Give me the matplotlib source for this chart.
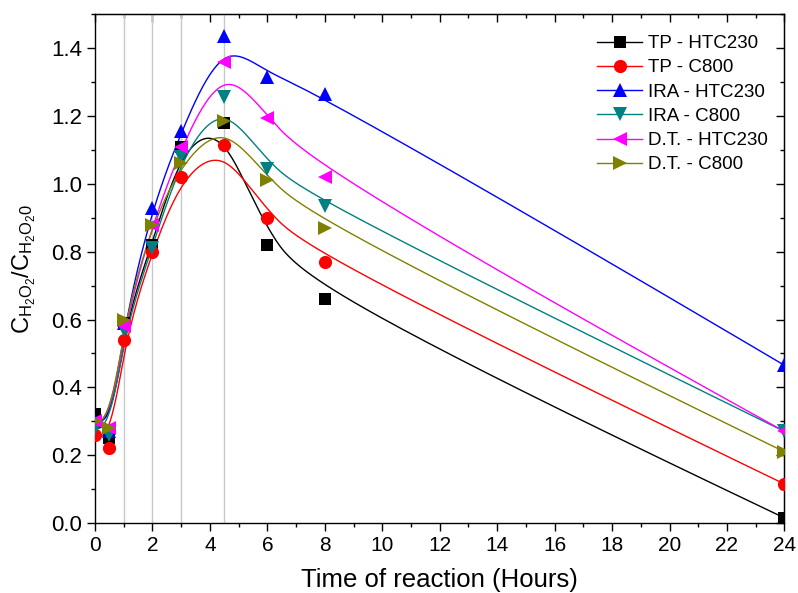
import numpy as np
import matplotlib
matplotlib.use("Agg")
import matplotlib.pyplot as plt
from matplotlib.ticker import MultipleLocator, FormatStrFormatter

plt.rcParams['font.family'] = ['Liberation Sans', 'DejaVu Sans']
plt.rcParams['mathtext.fontset'] = 'custom'
plt.rcParams['mathtext.rm'] = 'Liberation Sans'
plt.rcParams['mathtext.it'] = 'Liberation Sans'

# Reaction time (hours)
time_h = [0, 0.5, 1, 2, 3, 4.5, 6, 8, 24]

# Normalised H2O2 concentration for each catalyst / carbon pair
tp_htc230 = [0.32, 0.25, 0.59, 0.82, 1.11, 1.18, 0.82, 0.66, 0.015]
tp_c800 = [0.26, 0.22, 0.54, 0.80, 1.02, 1.115, 0.90, 0.77, 0.115]
ira_htc230 = [0.30, 0.27, 0.59, 0.93, 1.155, 1.435, 1.315, 1.265, 0.465]
ira_c800 = [0.28, 0.26, 0.57, 0.81, 1.08, 1.255, 1.045, 0.935, 0.27]
dt_htc230 = [0.30, 0.28, 0.58, 0.88, 1.11, 1.36, 1.195, 1.02, 0.27]
dt_c800 = [0.30, 0.28, 0.60, 0.88, 1.06, 1.185, 1.01, 0.87, 0.21]

labels = ['TP - HTC230', 'TP - C800', 'IRA - HTC230', 'IRA - C800',
          'D.T. - HTC230', 'D.T. - C800']
colors = ['#000000', '#FF0000', '#0000FF', '#008080', '#FF00FF', '#808000']
markers = ['s', 'o', '^', 'v', '<', '>']
msizes = [8.5, 9.5, 10.5, 10.5, 10.5, 10.5]

# Gridline positions marking the sampling times
guide_x = [1, 2, 3, 4.5]


def bspline(px, py, degree=3, n=400):
    """Clamped uniform B-spline using the data points as control points."""
    px = np.asarray(px, float)
    py = np.asarray(py, float)
    m = len(px)
    inner = np.arange(1, m - degree)
    knots = np.concatenate([np.zeros(degree + 1), inner,
                            np.full(degree + 1, m - degree)]).astype(float)
    u = np.linspace(0, m - degree, n)
    u[-1] -= 1e-9
    # Cox-de Boor recursion
    N = np.zeros((n, len(knots) - 1))
    for i in range(len(knots) - 1):
        N[:, i] = (u >= knots[i]) & (u < knots[i + 1])
    for k in range(1, degree + 1):
        Nn = np.zeros((n, len(knots) - 1 - k))
        for i in range(len(knots) - 1 - k):
            d1 = knots[i + k] - knots[i]
            d2 = knots[i + k + 1] - knots[i + 1]
            a = (u - knots[i]) / d1 * N[:, i] if d1 > 0 else 0
            b = (knots[i + k + 1] - u) / d2 * N[:, i + 1] if d2 > 0 else 0
            Nn[:, i] = a + b
        N = Nn
    return N @ px, N @ py


fig = plt.figure(figsize=(7.98, 5.93), dpi=100)
ax = fig.add_axes([0.119, 0.118, 0.864, 0.858])

for gx in guide_x:
    ax.axvline(gx, color='#c8c8c8', lw=1.0, zorder=1)

series = [tp_htc230, tp_c800, ira_htc230, ira_c800, dt_htc230, dt_c800]
for ys, lab, c, mk, ms in zip(series, labels, colors, markers, msizes):
    cx, cy = bspline(time_h, ys)
    ax.plot(cx, cy, color=c, lw=1.0, zorder=2)
    ax.plot(time_h, ys, linestyle='none', marker=mk, color=c, ms=ms,
            markeredgewidth=0, zorder=3)
    ax.plot([], [], color=c, lw=1.0, marker=mk, ms=ms, markeredgewidth=0,
            label=lab)

ax.set_xlim(0, 24)
ax.set_ylim(0, 1.5)
ax.xaxis.set_major_locator(MultipleLocator(2))
ax.xaxis.set_minor_locator(MultipleLocator(1))
ax.yaxis.set_major_locator(MultipleLocator(0.2))
ax.yaxis.set_minor_locator(MultipleLocator(0.1))
ax.yaxis.set_major_formatter(FormatStrFormatter('%.1f'))

ax.tick_params(which='both', direction='out', top=False, right=False,
               width=1.0)
ax.tick_params(axis='x', labelsize=15)
ax.tick_params(axis='y', labelsize=16)
ax.tick_params(which='major', length=6)
ax.tick_params(which='minor', length=3)

# inward ticks on the top and right frame
sec_x = ax.secondary_xaxis('top')
sec_x.xaxis.set_major_locator(MultipleLocator(2))
sec_x.xaxis.set_minor_locator(MultipleLocator(1))
sec_x.tick_params(which='both', direction='in', labeltop=False, width=1.0)
sec_x.tick_params(which='major', length=6)
sec_x.tick_params(which='minor', length=3)
sec_y = ax.secondary_yaxis('right')
sec_y.yaxis.set_major_locator(MultipleLocator(0.2))
sec_y.yaxis.set_minor_locator(MultipleLocator(0.1))
sec_y.tick_params(which='both', direction='in', labelright=False, width=1.0)
sec_y.tick_params(which='major', length=6)
sec_y.tick_params(which='minor', length=3)

for sp in ax.spines.values():
    sp.set_linewidth(1.0)

ax.set_xlabel('Time of reaction (Hours)', fontsize=18.5, labelpad=9)
ax.set_ylabel(r'$\mathregular{C_{H_2O_2}/C_{H_2O_20}}$', fontsize=17,
              labelpad=9)

ax.legend(loc='upper right', frameon=False, fontsize=13.5, handlelength=2.4,
          handletextpad=0.3, labelspacing=0.38, borderaxespad=0.3,
          bbox_to_anchor=(0.995, 0.985))

fig.savefig('out.png', dpi=100)
